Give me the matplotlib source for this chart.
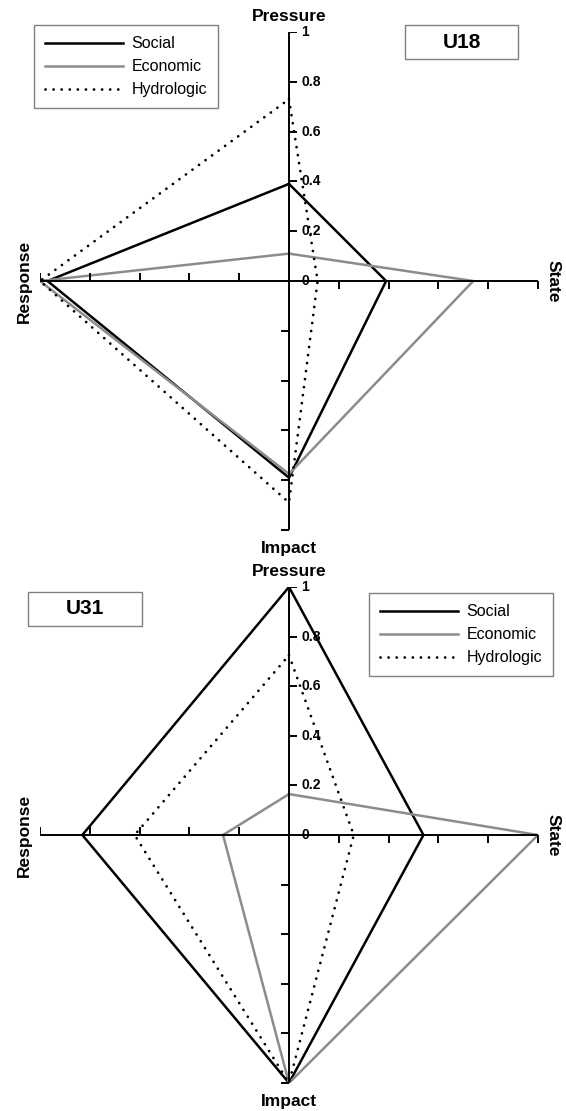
import numpy as np
import matplotlib
matplotlib.use('Agg')
import matplotlib.pyplot as plt
from matplotlib.markers import TICKLEFT, TICKRIGHT, TICKUP, TICKDOWN
from matplotlib.patches import Rectangle

plt.rcParams['font.family'] = ['Liberation Sans', 'DejaVu Sans']

# arms of the diagram, clockwise from the top
dims = ['Pressure', 'State', 'Impact', 'Response']
angles = np.deg2rad([90, 0, -90, 180])
series = ['Social', 'Economic', 'Hydrologic']
ticks = [0, 0.2, 0.4, 0.6, 0.8, 1]
tick_labels = ['0', '0.2', '0.4', '0.6', '0.8', '1']

# values per site, order: Pressure, State, Impact, Response
u18_social = [0.39, 0.39, 0.79, 0.97]
u18_economic = [0.11, 0.74, 0.775, 1.0]
u18_hydrologic = [0.73, 0.115, 0.89, 1.0]

u31_social = [1.0, 0.54, 1.0, 0.83]
u31_economic = [0.165, 1.0, 1.0, 0.265]
u31_hydrologic = [0.725, 0.26, 1.0, 0.62]

# line styles for each series
styles = {
    'Social': dict(color='black', lw=1.8, ls='-'),
    'Economic': dict(color='#8c8c8c', lw=1.8, ls='-'),
    'Hydrologic': dict(color='black', lw=2.0, ls=(0, (0.01, 2.9)),
                       dash_capstyle='round'),
}

W, H = 566, 1111
fig = plt.figure(figsize=(W / 100, H / 100), dpi=100)


def px_axes(x0, x1, y0, y1):
    # axes given in pixels from the top-left corner
    return fig.add_axes([x0 / W, 1 - y1 / H, (x1 - x0) / W, (y1 - y0) / H])


def drawPanel(ax, data, site, leg_xy, box):
    ax.set_xlim(-1, 1)
    ax.set_ylim(-1, 1)
    ax.axis('off')
    t = np.array(ticks)
    z = np.zeros_like(t)
    # cross of axes
    ax.plot([-1, 1], [0, 0], color='black', lw=1.4, zorder=3)
    ax.plot([0, 0], [-1, 1], color='black', lw=1.4, zorder=3)
    tk = dict(ls='', color='black', markersize=6, markeredgewidth=1.4, zorder=3)
    ax.plot(z[1:], t[1:], marker=TICKRIGHT, **tk)
    ax.plot(z[1:], -t[1:], marker=TICKLEFT, **tk)
    ax.plot(t[1:], z[1:], marker=TICKDOWN, **tk)
    ax.plot(-t[1:], z[1:], marker=TICKUP, **tk)
    for v, lab in zip(ticks, tick_labels):
        ax.annotate(lab, (0, v), xytext=(9, 0), textcoords='offset points',
                    ha='left', va='center', fontsize=10, fontweight='bold',
                    zorder=4)
    # arm titles
    lb = dict(fontsize=12.5, fontweight='bold', textcoords='offset points')
    ax.annotate(dims[0], (0, 1), xytext=(0, 11), ha='center', va='center', **lb)
    ax.annotate(dims[2], (0, -1), xytext=(0, -13), ha='center', va='center', **lb)
    ax.annotate(dims[1], (1, 0), xytext=(11, 0), ha='center', va='center',
                rotation=-90, **lb)
    ax.annotate(dims[3], (-1, 0), xytext=(-11, 0), ha='center', va='center',
                rotation=90, **lb)
    # the series polygons
    for name, vals in zip(series, data):
        v = np.array(vals + vals[:1])
        a = np.concatenate([angles, angles[:1]])
        ax.plot(v * np.cos(a), v * np.sin(a), label=name, zorder=2,
                **styles[name])
    leg = ax.legend(loc='upper left', bbox_to_anchor=(leg_xy[0] / W, 1 - leg_xy[1] / H),
                    bbox_transform=fig.transFigure, borderaxespad=0,
                    fancybox=False, edgecolor='#808080', framealpha=1,
                    fontsize=11.5, handlelength=4.9, handletextpad=0.5,
                    labelspacing=0.5, borderpad=0.7)
    leg.get_frame().set_linewidth(1.0)
    # site name box
    x0, x1, y0, y1 = box
    fig.patches.append(Rectangle((x0 / W, 1 - y1 / H), (x1 - x0) / W, (y1 - y0) / H,
                                 transform=fig.transFigure, fill=False,
                                 edgecolor='#808080', lw=1.0))
    fig.text((x0 + x1) / 2 / W, 1 - (y0 + y1) / 2 / H, site, ha='center',
             va='center', fontsize=15, fontweight='bold')


ax1 = px_axes(40, 538, 32, 530)
drawPanel(ax1, [u18_social, u18_economic, u18_hydrologic], 'U18',
          (34, 25), (405, 518, 25, 59))

ax2 = px_axes(40, 538, 587, 1083)
drawPanel(ax2, [u31_social, u31_economic, u31_hydrologic], 'U31',
          (369, 593), (28, 142, 592, 626))

fig.savefig('out.png', dpi=100)
